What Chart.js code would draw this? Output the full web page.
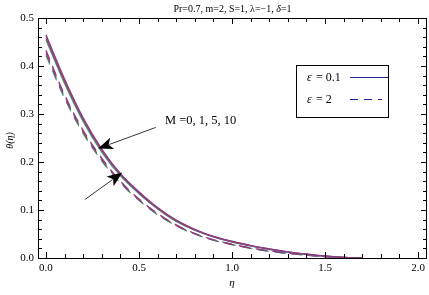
<!DOCTYPE html>
<html>
<head>
<meta charset="utf-8">
<script src="https://cdn.jsdelivr.net/npm/chart.js@4"></script>
<style>
  html, body { margin: 0; padding: 0; background: #fff; }
  #wrap { width: 429px; height: 295px; }
</style>
</head>
<body>
<div id="wrap"><canvas id="thetaChart"></canvas></div>
<script>
// eta grid
const eta = [0, 0.1, 0.2, 0.3, 0.4, 0.5, 0.6, 0.7, 0.8, 0.9, 1.0, 1.1, 1.2, 1.3, 1.4, 1.5, 1.6, 1.7]

// epsilon = 0.1 (solid), M = 0, 1, 5, 10
const solidM0  = [0.465, 0.373, 0.292, 0.227, 0.176, 0.138, 0.105, 0.079, 0.060, 0.045, 0.035, 0.026, 0.019, 0.013, 0.008, 0.004, 0.0015, 0]
const solidM1  = [0.462, 0.370, 0.290, 0.225, 0.175, 0.137, 0.104, 0.078, 0.059, 0.045, 0.034, 0.026, 0.019, 0.013, 0.008, 0.004, 0.0015, 0]
const solidM5  = [0.458, 0.367, 0.287, 0.223, 0.173, 0.135, 0.103, 0.077, 0.058, 0.044, 0.034, 0.025, 0.018, 0.012, 0.008, 0.004, 0.0015, 0]
const solidM10 = [0.454, 0.363, 0.284, 0.220, 0.171, 0.134, 0.102, 0.076, 0.058, 0.044, 0.033, 0.025, 0.018, 0.012, 0.007, 0.004, 0.0015, 0]

// epsilon = 2 (dashed), M = 0, 1, 5, 10
const dashM0  = [0.433, 0.340, 0.266, 0.208, 0.160, 0.123, 0.093, 0.069, 0.051, 0.038, 0.029, 0.021, 0.015, 0.010, 0.006, 0.003, 0.001, 0]
const dashM1  = [0.430, 0.338, 0.264, 0.206, 0.159, 0.122, 0.092, 0.068, 0.051, 0.038, 0.028, 0.021, 0.015, 0.010, 0.006, 0.003, 0.001, 0]
const dashM5  = [0.426, 0.335, 0.262, 0.204, 0.157, 0.121, 0.091, 0.068, 0.050, 0.037, 0.028, 0.020, 0.014, 0.010, 0.006, 0.003, 0.001, 0]
const dashM10 = [0.422, 0.332, 0.259, 0.202, 0.156, 0.120, 0.090, 0.067, 0.050, 0.037, 0.028, 0.020, 0.014, 0.009, 0.006, 0.003, 0.001, 0]

const xTicks = [0, 0.5, 1.0, 1.5, 2.0]
const yTicks = [0, 0.1, 0.2, 0.3, 0.4, 0.5]
const mColors = ["#8a3a8e", "#b04848", "#4a58a8", "#5a9e56"]

const serif = "'Liberation Serif', 'DejaVu Serif', serif"

function series(values, color, dashed) {
    return {
        data: eta.map((e, i) => ({ x: e, y: values[i] })),
        borderColor: color,
        borderWidth: 1.2,
        borderDash: dashed ? [10, 7] : [],
        pointRadius: 0,
        cubicInterpolationMode: "monotone",
        fill: false
    }
}

function arrow(ctx, x0, y0, x1, y1) {
    const a = Math.atan2(y1 - y0, x1 - x0)
    const len = 15, half = 6
    ctx.beginPath()
    ctx.moveTo(x0, y0)
    ctx.lineTo(x1 - Math.cos(a) * len * 0.8, y1 - Math.sin(a) * len * 0.8)
    ctx.stroke()
    ctx.beginPath()
    ctx.moveTo(x1, y1)
    ctx.lineTo(x1 - Math.cos(a) * len - Math.sin(a) * half, y1 - Math.sin(a) * len + Math.cos(a) * half)
    ctx.lineTo(x1 - Math.cos(a) * len * 0.75, y1 - Math.sin(a) * len * 0.75)
    ctx.lineTo(x1 - Math.cos(a) * len + Math.sin(a) * half, y1 - Math.sin(a) * len - Math.cos(a) * half)
    ctx.closePath()
    ctx.fill()
}

const decor = {
    id: "decor",
    afterDraw(chart) {
        const ctx = chart.ctx
        const xs = chart.scales.x, ys = chart.scales.y
        const ca = chart.chartArea
        ctx.save()
        ctx.strokeStyle = "#000"
        ctx.fillStyle = "#000"
        ctx.lineWidth = 1

        // frame
        ctx.strokeRect(Math.round(ca.left) + 0.5, Math.round(ca.top) + 0.5,
            Math.round(ca.right - ca.left) - 1, Math.round(ca.bottom - ca.top))

        // ticks on all four sides, pointing inward
        ctx.beginPath()
        for (let k = 0; k <= 20; k++) {
            const v = k / 10
            const px = Math.round(xs.getPixelForValue(v)) + 0.5
            const l = k % 5 === 0 ? 6 : 4
            ctx.moveTo(px, ca.bottom); ctx.lineTo(px, ca.bottom - l)
            ctx.moveTo(px, ca.top); ctx.lineTo(px, ca.top + l)
        }
        for (let k = 0; k <= 25; k++) {
            const v = k / 50
            const py = Math.round(ys.getPixelForValue(v)) + 0.5
            const l = k % 5 === 0 ? 6 : 4
            ctx.moveTo(ca.left, py); ctx.lineTo(ca.left + l, py)
            ctx.moveTo(ca.right, py); ctx.lineTo(ca.right - l, py)
        }
        ctx.stroke()

        // title
        ctx.font = "10px " + serif
        ctx.textAlign = "center"
        ctx.textBaseline = "middle"
        const title1 = "Pr=0.7, m=2, S=1, λ=−1, "
        const w1 = ctx.measureText(title1).width
        ctx.font = "italic 10px " + serif
        const w2 = ctx.measureText("δ").width
        ctx.font = "10px " + serif
        const w3 = ctx.measureText("=1").width
        let tx = (ca.left + ca.right) / 2 - (w1 + w2 + w3) / 2
        ctx.textAlign = "left"
        ctx.fillText(title1, tx, 9)
        ctx.font = "italic 10px " + serif
        ctx.fillText("δ", tx + w1, 9)
        ctx.font = "10px " + serif
        ctx.fillText("=1", tx + w1 + w2, 9)

        // axis labels
        ctx.font = "italic 11px " + serif
        ctx.textAlign = "center"
        ctx.fillText("η", xs.getPixelForValue(1.0), 283)
        ctx.save()
        ctx.translate(10, ys.getPixelForValue(0.245))
        ctx.rotate(-Math.PI / 2)
        ctx.font = "italic 10px " + serif
        ctx.fillText("θ(η)", 0, 0)
        ctx.restore()

        // annotation
        ctx.font = "12.5px " + serif
        ctx.textAlign = "left"
        ctx.fillText("M =0, 1, 5, 10", xs.getPixelForValue(0.64), ys.getPixelForValue(0.287))
        ctx.lineWidth = 0.8
        arrow(ctx, xs.getPixelForValue(0.59), ys.getPixelForValue(0.272),
            xs.getPixelForValue(0.28), ys.getPixelForValue(0.228))
        arrow(ctx, xs.getPixelForValue(0.21), ys.getPixelForValue(0.122),
            xs.getPixelForValue(0.41), ys.getPixelForValue(0.178))

        // legend box
        ctx.lineWidth = 1
        ctx.strokeRect(296.5, 65.5, 92, 52)
        ctx.font = "italic 12px " + serif
        ctx.textAlign = "left"
        ctx.fillText("ε", 307, 78)
        ctx.fillText("ε", 307, 100)
        ctx.font = "12px " + serif
        ctx.fillText(" = 0.1", 313, 78)
        ctx.fillText(" = 2", 313, 100)
        ctx.strokeStyle = "#22229a"
        ctx.lineWidth = 1.2
        ctx.beginPath()
        ctx.moveTo(350, 77.5); ctx.lineTo(388, 77.5)
        ctx.stroke()
        ctx.setLineDash([8, 6])
        ctx.beginPath()
        ctx.moveTo(350, 99.5); ctx.lineTo(382, 99.5)
        ctx.stroke()
        ctx.restore()
    }
}

const thetaChart = new Chart(
    document.getElementById("thetaChart"),
    {
        type: "line",
        data: {
            datasets: [
                series(solidM0, mColors[0], false),
                series(solidM1, mColors[1], false),
                series(solidM5, mColors[2], false),
                series(solidM10, mColors[3], false),
                series(dashM0, mColors[0], true),
                series(dashM1, mColors[1], true),
                series(dashM5, mColors[2], true),
                series(dashM10, mColors[3], true)
            ]
        },
        options: {
            responsive: true,
            maintainAspectRatio: false,
            animation: false,
            layout: { padding: { left: 0, right: 2, top: 18, bottom: 0 } },
            plugins: {
                legend: { display: false },
                tooltip: { enabled: false }
            },
            scales: {
                x: {
                    type: "linear",
                    min: -0.043,
                    max: 2.048,
                    afterBuildTicks: s => { s.ticks = xTicks.map(v => ({ value: v })) },
                    afterFit: s => { s.height = 37 },
                    grid: { display: false, drawTicks: false },
                    border: { display: false },
                    ticks: {
                        padding: 4,
                        color: "#000",
                        font: { family: serif, size: 11 },
                        maxRotation: 0,
                        callback: v => v.toFixed(1)
                    }
                },
                y: {
                    type: "linear",
                    min: 0,
                    max: 0.5,
                    afterBuildTicks: s => { s.ticks = yTicks.map(v => ({ value: v })) },
                    afterFit: s => { s.width = 38 },
                    grid: { display: false, drawTicks: false },
                    border: { display: false },
                    ticks: {
                        padding: 4,
                        color: "#000",
                        font: { family: serif, size: 11 },
                        callback: v => v.toFixed(1)
                    }
                }
            }
        },
        plugins: [decor]
    }
)
</script>
</body>
</html>
